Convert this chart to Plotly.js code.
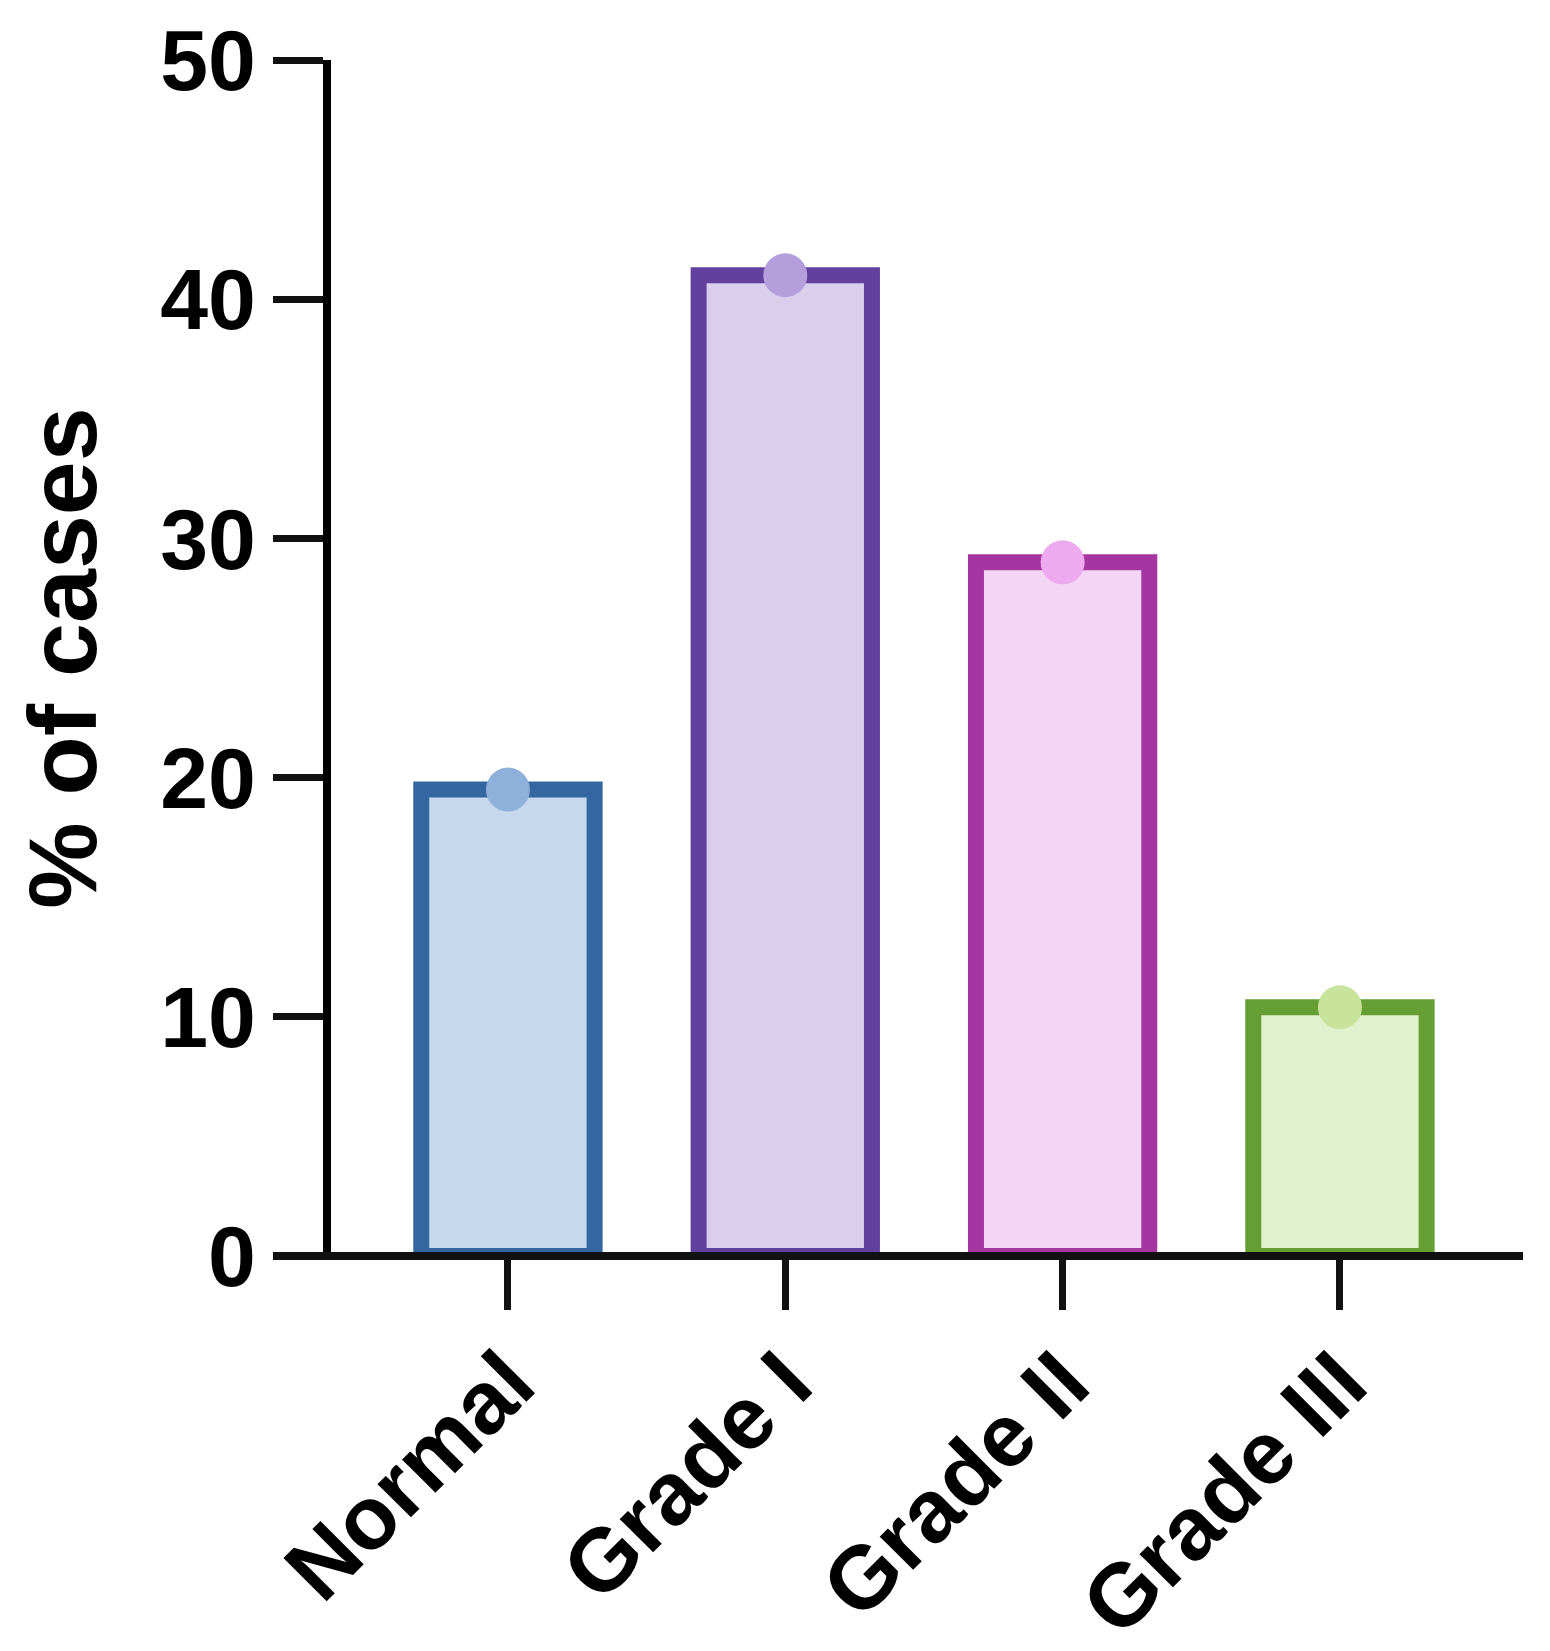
<!DOCTYPE html>
<html>
<head>
<meta charset="utf-8">
<script src="https://cdn.plot.ly/plotly-3.0.1.min.js"></script>
<style>
  html, body { margin: 0; padding: 0; background: #ffffff; }
  #chart { width: 1550px; height: 1651px; }
</style>
</head>
<body>
<div id="chart"></div>
<script>
// grades and % of cases
const categories = ['Normal', 'Grade I', 'Grade II', 'Grade III'];
const pctCases = [19.5, 41.0, 29.0, 10.4];

// per-bar colours
const fillColors = ['#c6d8ee', '#d9cfed', '#f5d5f5', '#e1f0cd'];
const lineColors = ['#3466a0', '#62409e', '#a535a0', '#659f33'];
const dotColors = ['#90b0dc', '#b49fdc', '#eeaaee', '#c8e49c'];

const yTicks = [0, 10, 20, 30, 40, 50];

const bars = {
  type: 'bar',
  x: categories,
  y: pctCases,
  marker: {
    color: fillColors,
    line: { color: lineColors, width: 16 }
  },
  hoverinfo: 'x+y',
  showlegend: false
};

const dots = {
  type: 'scatter',
  mode: 'markers',
  x: categories,
  y: pctCases,
  marker: { color: dotColors, size: 44, line: { width: 0 } },
  cliponaxis: false,
  hoverinfo: 'skip',
  showlegend: false
};

const fontFam = 'Liberation Sans, Arial, sans-serif';

const layout = {
  width: 1550,
  height: 1651,
  margin: { l: 331, r: 27, t: 60, b: 395 },
  paper_bgcolor: '#ffffff',
  plot_bgcolor: '#ffffff',
  bargap: 0.375,
  font: { family: fontFam, color: '#000000' },
  xaxis: {
    type: 'category',
    range: [-0.638, 3.66],
    showline: false,
    ticks: 'outside',
    ticklen: 53,
    tickwidth: 7,
    tickcolor: '#111111',
    tickangle: -45,
    ticklabelstandoff: -15,
    tickfont: { family: fontFam, size: 89, weight: 700, color: '#000000' },
    showgrid: false,
    zeroline: false,
    fixedrange: true
  },
  yaxis: {
    range: [0, 50],
    tickvals: yTicks,
    ticktext: yTicks.map(String),
    showline: true,
    linecolor: '#000000',
    linewidth: 8,
    ticks: 'outside',
    ticklen: 50,
    tickwidth: 7,
    tickcolor: '#111111',
    tickfont: { family: fontFam, size: 86, weight: 700, color: '#000000' },
    showgrid: false,
    zeroline: false,
    title: {
      text: '% of cases',
      font: { family: fontFam, size: 97, weight: 700, color: '#000000' },
      standoff: 34
    },
    fixedrange: true
  },
  // x axis base line, running left under the 0 tick as in the original
  shapes: [{
    type: 'line',
    xref: 'paper', yref: 'paper',
    x0: -0.0487, x1: 1, y0: 0, y1: 0,
    line: { color: '#111111', width: 8 },
    layer: 'above'
  }]
};

const config = { displayModeBar: false, staticPlot: true };

Plotly.newPlot('chart', [bars, dots], layout, config);
</script>
</body>
</html>
